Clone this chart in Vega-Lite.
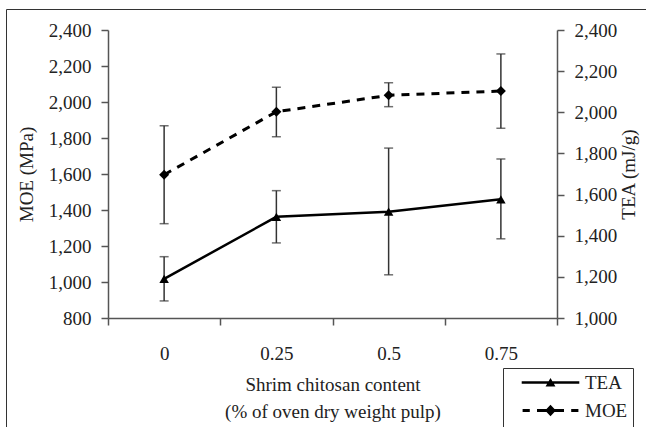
{
  "$schema": "https://vega.github.io/schema/vega-lite/v6.json",
  "width": 449,
  "height": 288,
  "autosize": {"type": "none"},
  "padding": {"left": 108, "top": 30, "right": 89, "bottom": 109},
  "background": "white",
  "config": {
    "font": "Liberation Serif",
    "view": {"stroke": null},
    "axis": {
      "labelFont": "Liberation Serif",
      "titleFont": "Liberation Serif",
      "labelFontSize": 19,
      "titleFontSize": 19,
      "titleFontWeight": "normal",
      "labelColor": "#222",
      "titleColor": "#222",
      "domainColor": "#555",
      "tickColor": "#555",
      "domainWidth": 1.5,
      "tickWidth": 1.5,
      "tickSize": 7,
      "grid": false
    }
  },
  "datasets": {
    "pulp": [
      {"c": "0", "MOE": 1596, "MOE_lo": 1324, "MOE_hi": 1868, "TEA": 1190, "TEA_lo": 1083, "TEA_hi": 1298},
      {"c": "0.25", "MOE": 1946, "MOE_lo": 1807, "MOE_hi": 2082, "TEA": 1492, "TEA_lo": 1365, "TEA_hi": 1619},
      {"c": "0.5", "MOE": 2037, "MOE_lo": 1974, "MOE_hi": 2107, "TEA": 1517, "TEA_lo": 1210, "TEA_hi": 1826},
      {"c": "0.75", "MOE": 2061, "MOE_lo": 1854, "MOE_hi": 2267, "TEA": 1577, "TEA_lo": 1385, "TEA_hi": 1773}
    ],
    "keys": [
      {"series": "TEA", "frame": "f"},
      {"series": "MOE", "frame": "f"}
    ]
  },
  "layer": [
    {
      "data": {"name": "pulp"},
      "encoding": {
        "x": {
          "field": "c", "type": "ordinal",
          "scale": {"domain": ["0", "0.25", "0.5", "0.75"], "paddingInner": 0, "paddingOuter": 0},
          "axis": {
            "title": ["Shrim chitosan content", "(% of oven dry weight pulp)"],
            "labelAngle": 0,
            "tickBand": "extent",
            "labelPadding": 19,
            "titlePadding": 12,
            "titleLineHeight": 27
          }
        }
      },
      "layer": [
        {"mark": {"type": "rule", "color": "#333", "strokeWidth": 1.5},
         "encoding": {
           "y": {"field": "MOE_lo", "type": "quantitative", "scale": {"domain": [800, 2400], "nice": false, "zero": false},
                 "axis": {"title": "MOE (MPa)", "orient": "left", "values": [800, 1000, 1200, 1400, 1600, 1800, 2000, 2200, 2400], "format": ",d", "labelPadding": 10, "titlePadding": 12}},
           "y2": {"field": "MOE_hi"}}},
        {"mark": {"type": "tick", "color": "#333", "thickness": 1.5, "size": 9},
         "encoding": {
           "y": {"field": "MOE_lo", "type": "quantitative", "scale": {"domain": [800, 2400], "nice": false, "zero": false},
                 "axis": {"title": "MOE (MPa)", "orient": "left", "values": [800, 1000, 1200, 1400, 1600, 1800, 2000, 2200, 2400], "format": ",d", "labelPadding": 10, "titlePadding": 12}}}},
        {"mark": {"type": "tick", "color": "#333", "thickness": 1.5, "size": 9},
         "encoding": {
           "y": {"field": "MOE_hi", "type": "quantitative", "scale": {"domain": [800, 2400], "nice": false, "zero": false},
                 "axis": {"title": "MOE (MPa)", "orient": "left", "values": [800, 1000, 1200, 1400, 1600, 1800, 2000, 2200, 2400], "format": ",d", "labelPadding": 10, "titlePadding": 12}}}},
        {"mark": {"type": "line", "color": "black", "strokeWidth": 3, "strokeDash": [8, 7]},
         "encoding": {
           "y": {"field": "MOE", "type": "quantitative", "scale": {"domain": [800, 2400], "nice": false, "zero": false},
                 "axis": {"title": "MOE (MPa)", "orient": "left", "values": [800, 1000, 1200, 1400, 1600, 1800, 2000, 2200, 2400], "format": ",d", "labelPadding": 10, "titlePadding": 12}}}},
        {"mark": {"type": "point", "shape": "diamond", "filled": true, "color": "black", "size": 100, "opacity": 1},
         "encoding": {
           "y": {"field": "MOE", "type": "quantitative", "scale": {"domain": [800, 2400], "nice": false, "zero": false},
                 "axis": {"title": "MOE (MPa)", "orient": "left", "values": [800, 1000, 1200, 1400, 1600, 1800, 2000, 2200, 2400], "format": ",d", "labelPadding": 10, "titlePadding": 12}}}}
      ]
    },
    {
      "data": {"name": "pulp"},
      "encoding": {
        "x": {"field": "c", "type": "ordinal"}
      },
      "layer": [
        {"mark": {"type": "rule", "color": "#333", "strokeWidth": 1.5},
         "encoding": {
           "y": {"field": "TEA_lo", "type": "quantitative", "scale": {"domain": [1000, 2400], "nice": false, "zero": false},
                 "axis": {"title": "TEA (mJ/g)", "orient": "right", "values": [1000, 1200, 1400, 1600, 1800, 2000, 2200, 2400], "format": ",d", "labelPadding": 10, "titlePadding": 3, "titleAngle": 270, "titleBaseline": "top"}},
           "y2": {"field": "TEA_hi"}}},
        {"mark": {"type": "tick", "color": "#333", "thickness": 1.5, "size": 9},
         "encoding": {
           "y": {"field": "TEA_lo", "type": "quantitative", "scale": {"domain": [1000, 2400], "nice": false, "zero": false},
                 "axis": {"title": "TEA (mJ/g)", "orient": "right", "values": [1000, 1200, 1400, 1600, 1800, 2000, 2200, 2400], "format": ",d", "labelPadding": 10, "titlePadding": 3, "titleAngle": 270, "titleBaseline": "top"}}}},
        {"mark": {"type": "tick", "color": "#333", "thickness": 1.5, "size": 9},
         "encoding": {
           "y": {"field": "TEA_hi", "type": "quantitative", "scale": {"domain": [1000, 2400], "nice": false, "zero": false},
                 "axis": {"title": "TEA (mJ/g)", "orient": "right", "values": [1000, 1200, 1400, 1600, 1800, 2000, 2200, 2400], "format": ",d", "labelPadding": 10, "titlePadding": 3, "titleAngle": 270, "titleBaseline": "top"}}}},
        {"mark": {"type": "line", "color": "black", "strokeWidth": 2.5},
         "encoding": {
           "y": {"field": "TEA", "type": "quantitative", "scale": {"domain": [1000, 2400], "nice": false, "zero": false},
                 "axis": {"title": "TEA (mJ/g)", "orient": "right", "values": [1000, 1200, 1400, 1600, 1800, 2000, 2200, 2400], "format": ",d", "labelPadding": 10, "titlePadding": 3, "titleAngle": 270, "titleBaseline": "top"}}}},
        {"mark": {"type": "point", "shape": "triangle-up", "filled": true, "color": "black", "size": 90, "opacity": 1},
         "encoding": {
           "y": {"field": "TEA", "type": "quantitative", "scale": {"domain": [1000, 2400], "nice": false, "zero": false},
                 "axis": {"title": "TEA (mJ/g)", "orient": "right", "values": [1000, 1200, 1400, 1600, 1800, 2000, 2200, 2400], "format": ",d", "labelPadding": 10, "titlePadding": 3, "titleAngle": 270, "titleBaseline": "top"}}}}
      ]
    },
    {
      "data": {"name": "keys"},
      "mark": {"type": "point", "filled": true, "color": "black", "opacity": 0},
      "encoding": {
        "shape": {
          "field": "series", "type": "nominal",
          "scale": {
            "domain": ["TEA", "MOE", " "],
            "range": [
              "M-3.2,-0.14L3.2,-0.14L3.2,0.14L-3.2,0.14Z M-0.55,0.45L0,-0.5L0.55,0.45Z",
              "M-3.1,-0.16L-2.3,-0.16L-2.3,0.16L-3.1,0.16Z M-1.5,-0.16L1.5,-0.16L1.5,0.16L-1.5,0.16Z M2.3,-0.16L3.1,-0.16L3.1,0.16L2.3,0.16Z M0,-0.65L0.6,0L0,0.65L-0.6,0Z",
              "M0,0L0,0"
            ]
          },
          "legend": {
            "title": null,
            "orient": "none",
            "legendX": 395,
            "legendY": 338,
            "padding": 5,
            "rowPadding": 8,
            "symbolSize": 324,
            "symbolOffset": 33,
            "labelOffset": 25,
            "symbolStrokeWidth": 0,
            "symbolFillColor": "black",
            "symbolOpacity": 1,
            "strokeColor": "#333",
            "fillColor": "white",
            "labelFont": "Liberation Serif",
            "labelFontSize": 19,
            "labelColor": "#222"
          }
        },
        "strokeDash": {
          "field": "frame", "type": "nominal",
          "legend": {
            "title": null,
            "orient": "none",
            "legendX": -102,
            "legendY": -21,
            "padding": 400,
            "symbolSize": 0,
            "symbolOpacity": 0,
            "labelOpacity": 0,
            "labelExpr": "''",
            "strokeColor": "#333"
          }
        }
      }
    }
  ],
  "resolve": {"scale": {"y": "independent"}, "axis": {"y": "independent"}}
}
